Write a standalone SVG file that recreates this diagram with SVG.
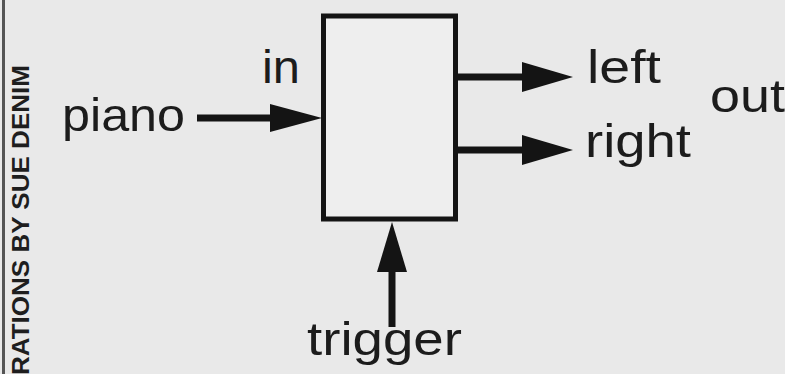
<svg xmlns="http://www.w3.org/2000/svg" width="785" height="374" viewBox="0 0 785 374">
<style>
.t{font-family:"Liberation Sans",Arial,sans-serif;font-size:47px;fill:#1c1c1c}
.c{fill:none;stroke:#141414;stroke-width:7}
.h{fill:#141414}
</style>
<rect width="785" height="374" fill="#e9e9e9"/>
<rect x="2" y="0" width="3" height="374" fill="#555"/>
<text transform="translate(28.5,65) rotate(-90)" text-anchor="end" font-family="Liberation Sans,Arial,sans-serif" font-weight="bold" font-size="23" fill="#1e1e1e" textLength="310" lengthAdjust="spacingAndGlyphs">RATIONS BY SUE DENIM</text>
<g id="box">
<rect x="323.5" y="16" width="132" height="203" fill="#eeeeee" stroke="#141414" stroke-width="5"/>
</g>
<g id="labels">
<text class="t" x="62" y="131" textLength="123" lengthAdjust="spacingAndGlyphs">piano</text>
<text class="t" x="262" y="83" textLength="38" lengthAdjust="spacingAndGlyphs">in</text>
<text class="t" x="587" y="83" textLength="74" lengthAdjust="spacingAndGlyphs">left</text>
<text class="t" x="585" y="157" textLength="106" lengthAdjust="spacingAndGlyphs">right</text>
<text class="t" x="710" y="112" textLength="75" lengthAdjust="spacingAndGlyphs">out</text>
<text class="t" x="307" y="355" textLength="155" lengthAdjust="spacingAndGlyphs">trigger</text>
</g>
<g id="connectors">
<line class="c" x1="197" y1="118" x2="275" y2="118"/>
<polygon class="h" points="270,104 322,118 270,132"/>
<line class="c" x1="455" y1="77" x2="528" y2="77"/>
<polygon class="h" points="522,62 573,77 522,92"/>
<line class="c" x1="455" y1="150" x2="528" y2="150"/>
<polygon class="h" points="522,135 573,150 522,165"/>
<line class="c" x1="392" y1="327" x2="392" y2="268"/>
<polygon class="h" points="377,272 392,222 407,272"/>
</g>
</svg>
